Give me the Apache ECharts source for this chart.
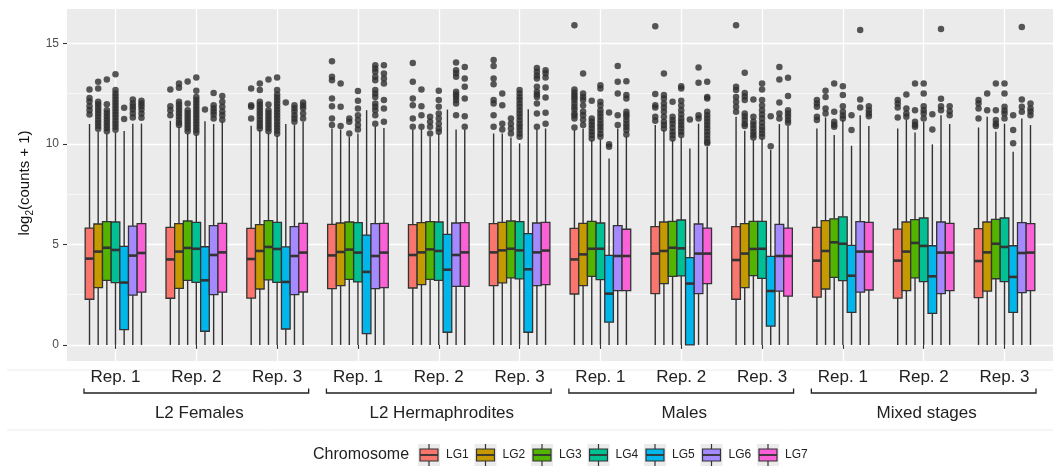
<!DOCTYPE html>
<html>
<head>
<meta charset="utf-8">
<title>Expression per chromosome</title>
<script src="https://cdn.jsdelivr.net/npm/echarts@6.0.0/dist/echarts.min.js"></script>
<style>
  html, body { margin: 0; padding: 0; background: #ffffff; }
  #chart { width: 1053px; height: 466px; }
</style>
</head>
<body>
<div id="chart"></div>
<script>
// ---- data ---------------------------------------------------------------
const conditions = ['L2 Females', 'L2 Hermaphrodites', 'Males', 'Mixed stages'];
const reps = ['Rep. 1', 'Rep. 2', 'Rep. 3'];
const chromosomes = ['LG1', 'LG2', 'LG3', 'LG4', 'LG5', 'LG6', 'LG7'];
const chromColors = ['#F8766D', '#C49A00', '#53B400', '#00C094', '#00B6EB', '#A58AFF', '#FB61D7'];
const yTicks = [0, 5, 10, 15];
const yMinorTicks = [2.5, 7.5, 12.5];

// box statistics per sample: [lower whisker, Q1, median, Q3, upper whisker]
const lg1Box = [
  [0, 2.27, 4.29, 5.81, 10.98], [0, 2.32, 4.25, 5.84, 11.14], [0, 2.33, 4.27, 5.79, 10.89],
  [0, 2.80, 4.45, 5.99, 10.76], [0, 2.83, 4.47, 5.98, 10.68], [0, 2.95, 4.60, 6.03, 10.51],
  [0, 2.53, 4.25, 5.79, 10.68], [0, 2.55, 4.54, 5.88, 10.93], [0, 2.27, 4.22, 5.88, 11.34],
  [0, 2.38, 4.19, 5.84, 10.76], [0, 2.33, 4.19, 5.76, 10.76], [0, 2.35, 4.17, 5.78, 10.81]
];
const lg2Box = [
  [0, 2.85, 4.64, 6.01, 10.60], [0, 2.81, 4.64, 6.03, 10.84], [0, 2.78, 4.67, 5.98, 10.68],
  [0, 2.95, 4.62, 6.06, 10.71], [0, 3.00, 4.60, 6.08, 10.71], [0, 3.08, 4.70, 6.09, 10.51],
  [0, 2.95, 4.50, 6.04, 10.76], [0, 3.05, 4.67, 6.11, 10.68], [0, 2.85, 4.54, 6.03, 10.65],
  [0, 2.78, 4.67, 6.18, 11.31], [0, 2.70, 4.64, 6.11, 11.18], [0, 2.67, 4.60, 6.11, 11.34]
];
const lg3Box = [
  [0, 3.21, 4.83, 6.13, 10.50], [0, 3.21, 4.82, 6.16, 10.50], [0, 3.23, 4.87, 6.18, 10.50],
  [0, 3.26, 4.74, 6.11, 10.35], [0, 3.26, 4.75, 6.13, 10.35], [0, 3.33, 4.78, 6.16, 10.31],
  [0, 3.41, 4.78, 6.14, 10.18], [0, 3.41, 4.83, 6.14, 10.18], [0, 3.44, 4.77, 6.14, 10.18],
  [0, 3.36, 5.10, 6.27, 10.43], [0, 3.33, 5.07, 6.23, 10.56], [0, 3.29, 5.03, 6.24, 10.60]
];
const lg4Box = [
  [0, 3.10, 4.72, 6.11, 10.55], [0, 3.11, 4.78, 6.09, 10.45], [0, 3.11, 4.77, 6.09, 10.40],
  [0, 3.13, 4.59, 6.08, 10.51], [0, 3.21, 4.67, 6.11, 10.51], [0, 3.28, 4.70, 6.13, 10.02],
  [0, 3.25, 4.78, 6.06, 10.21], [0, 3.43, 4.80, 6.21, 10.31], [0, 3.31, 4.78, 6.14, 10.26],
  [0, 3.20, 5.03, 6.37, 11.18], [0, 3.15, 4.92, 6.31, 11.09], [0, 3.15, 4.87, 6.31, 11.00]
];
const lg5Box = [
  [0, 0.76, 3.10, 4.90, 10.63], [0, 0.68, 3.21, 4.88, 11.12], [0, 0.79, 3.13, 4.87, 10.98],
  [0, 0.56, 3.63, 5.46, 11.67], [0, 0.63, 3.74, 5.50, 11.70], [0, 0.63, 3.76, 5.53, 11.72],
  [0, 1.13, 2.55, 4.45, 9.27], [0, 0.00, 3.05, 4.34, 9.77], [0, 0.93, 2.68, 4.40, 9.69],
  [0, 1.62, 3.44, 4.95, 9.90], [0, 1.57, 3.41, 4.93, 9.97], [0, 1.62, 3.38, 4.93, 9.60]
];
const lg6Box = [
  [0, 2.48, 4.44, 5.91, 11.00], [0, 2.50, 4.47, 5.93, 10.98], [0, 2.50, 4.42, 5.88, 10.93],
  [0, 2.80, 4.42, 6.03, 10.84], [0, 2.91, 4.47, 6.06, 10.71], [0, 2.95, 4.60, 6.06, 10.71],
  [0, 2.70, 4.42, 5.93, 10.76], [0, 2.55, 4.54, 6.01, 11.00], [0, 2.67, 4.42, 5.99, 10.98],
  [0, 2.62, 4.64, 6.13, 11.42], [0, 2.55, 4.59, 6.11, 11.42], [0, 2.60, 4.57, 6.08, 11.26]
];
const lg7Box = [
  [0, 2.62, 4.57, 6.03, 11.00], [0, 2.62, 4.60, 6.04, 11.09], [0, 2.63, 4.59, 6.04, 11.09],
  [0, 2.85, 4.59, 6.04, 10.79], [0, 2.91, 4.60, 6.08, 10.68], [0, 3.00, 4.69, 6.09, 10.76],
  [0, 2.70, 4.42, 5.75, 10.35], [0, 3.05, 4.54, 5.81, 9.85], [0, 2.43, 4.42, 5.81, 10.88],
  [0, 2.73, 4.64, 6.09, 10.88], [0, 2.70, 4.59, 6.04, 10.98], [0, 2.70, 4.59, 6.03, 10.93]
];

// outlying genes per sample
const lg1Out = [
  [12.70, 12.28, 12.10, 11.87, 11.67, 11.46],
  [12.70, 11.87, 11.67, 11.42],
  [12.75, 11.92, 11.84, 11.26],
  [14.10, 13.33, 13.16, 12.25, 11.87, 11.26, 10.93],
  [14.02, 13.08, 12.25, 11.92, 11.26, 10.84],
  [14.16, 13.87, 13.25, 12.96, 12.17, 12.00, 11.42, 10.84],
  [15.89, 12.70, 12.55, 12.42, 12.30, 12.17, 12.00, 11.84, 11.70, 11.51, 11.40, 11.26, 10.81],
  [15.84, 12.47, 11.92, 11.80, 11.34, 11.14],
  [15.89, 12.83, 12.67, 12.33, 12.09, 11.84, 11.59],
  [12.17, 12.00, 11.84, 11.34, 11.18],
  [12.17, 12.00, 11.80, 11.31],
  [12.17, 12.00, 11.75, 11.26]
];
const lg2Out = [
  [13.08, 12.75, 12.09, 11.95, 11.80, 11.65, 11.50, 11.35, 11.20, 11.05, 10.90, 10.75],
  [13.00, 12.78, 12.09, 11.95, 11.80, 11.65, 11.50, 11.35, 11.20, 11.05, 10.93],
  [13.00, 12.67, 12.09, 11.95, 11.80, 11.65, 11.50, 11.35, 11.20, 11.05, 10.90, 10.76],
  [13.00, 11.84, 10.88],
  [12.70, 11.87, 11.42, 10.84],
  [12.50, 11.92, 11.00, 10.71],
  [13.49, 12.50, 12.33, 12.17, 11.90, 11.60, 11.42, 11.20, 10.93],
  [13.49, 12.42, 12.25, 12.00, 11.80, 11.59, 11.34, 11.10, 10.93, 10.76],
  [13.53, 12.53, 12.35, 12.17, 11.51, 11.35, 11.18, 11.00, 10.88],
  [12.63, 12.33, 11.75, 11.51],
  [12.45, 11.75, 11.51, 11.34],
  [12.50, 11.67]
];
const lg3Out = [
  [13.20, 11.97, 11.67, 11.52, 11.37, 11.22, 11.07, 10.92, 10.77, 10.62],
  [13.10, 12.00, 11.67, 11.52, 11.37, 11.22, 11.07, 10.92, 10.77, 10.62],
  [13.20, 11.95, 11.67, 11.52, 11.37, 11.22, 11.07, 10.92, 10.77, 10.62],
  [11.26, 11.09, 10.51],
  [11.34, 11.09, 10.84, 10.51],
  [11.26, 11.00, 10.76, 10.51],
  [12.14, 11.26, 11.10, 10.93, 10.77, 10.60, 10.43, 10.26],
  [12.09, 11.34, 11.17, 11.00, 10.80, 10.60, 10.43, 10.26],
  [12.20, 11.34, 11.10, 10.93, 10.77, 10.60, 10.45, 10.31],
  [13.00, 11.59, 11.09, 10.95, 10.84],
  [13.00, 11.67, 11.09, 10.95, 10.84],
  [13.00, 11.67, 11.18, 11.00, 10.88]
];
const lg4Out = [
  [13.46, 12.67, 12.50, 12.35, 12.20, 12.05, 11.90, 11.75, 11.60, 11.45, 11.30, 11.15, 11.00, 10.85, 10.70],
  [13.30, 12.63, 12.33, 12.18, 12.03, 11.88, 11.73, 11.58, 11.43, 11.28, 11.13, 10.98, 10.83, 10.68, 10.55],
  [13.30, 12.67, 12.45, 12.30, 12.15, 12.00, 11.85, 11.70, 11.55, 11.40, 11.25, 11.10, 10.95, 10.80, 10.65, 10.50],
  [12.62, 12.14, 11.75, 11.42, 11.18, 10.93, 10.71],
  [12.63, 12.17, 11.84, 11.51, 11.26, 11.00, 10.76, 10.60],
  [12.67, 12.50, 12.33, 12.17, 12.00, 11.84, 11.67, 11.50, 11.34, 11.17, 11.00, 10.84, 10.68, 10.51, 10.35],
  [12.91, 12.75, 12.09, 11.90, 11.67, 11.50, 11.34, 11.17, 11.00, 10.84, 10.68, 10.50, 10.35],
  [12.86, 12.75, 12.14, 11.90, 11.67, 11.45, 11.26, 11.10, 10.93, 10.77, 10.60, 10.43],
  [13.00, 12.70, 12.17, 11.90, 11.67, 11.45, 11.26, 11.05, 10.84, 10.68, 10.51, 10.35],
  [12.86, 12.42, 11.87, 11.59, 11.40, 11.26],
  [13.00, 12.50, 11.87, 11.67, 11.51, 11.26],
  [13.00, 12.50, 11.84, 11.65, 11.51, 11.26]
];
const lg5Out = [
  [11.79, 11.23],
  [11.70],
  [12.05],
  [],
  [],
  [],
  [11.56, 9.98, 9.85],
  [11.21],
  [11.37, 9.88],
  [11.42, 10.68],
  [11.47, 10.71],
  [11.42, 10.68, 10.02]
];
const lg6Out = [
  [12.20, 12.00, 11.85, 11.70, 11.50, 11.30],
  [12.53, 11.92, 11.75, 11.60, 11.45, 11.26],
  [11.92, 11.76, 11.60, 11.42, 11.25, 11.09],
  [13.90, 13.74, 13.58, 13.33, 13.16, 12.67, 12.50, 12.33, 12.00, 11.84, 11.67, 11.42, 11.00],
  [14.04, 13.66, 13.50, 13.33, 12.58, 12.45, 12.33, 12.17, 12.00, 11.42],
  [13.77, 13.58, 13.40, 13.25, 12.83, 12.58, 12.45, 12.33, 12.00, 11.51, 10.84],
  [13.86, 13.08, 12.50, 11.42, 10.93],
  [13.79, 13.03, 11.42, 11.26],
  [13.82, 13.20, 12.05, 11.51, 11.26],
  [15.65, 12.20, 11.80],
  [15.70, 12.24, 11.87, 11.67],
  [15.81, 12.20, 11.84, 11.59]
];
const lg7Out = [
  [12.14, 12.00, 11.87, 11.70, 11.50, 11.29],
  [12.38, 12.09, 11.84, 11.60, 11.42, 11.20],
  [12.05, 11.90, 11.76, 11.50, 11.26],
  [13.90, 13.49, 13.25, 13.00, 12.17, 11.75, 11.09],
  [13.82, 13.25, 12.83, 12.25, 11.37, 10.84],
  [13.66, 13.50, 13.29, 12.80, 12.30, 11.54, 11.00],
  [13.11, 12.42, 12.25, 11.59, 11.45, 11.34, 11.17, 11.00, 10.84, 10.68, 10.46],
  [13.08, 12.33, 12.25, 11.59, 11.42, 11.26, 11.10, 10.93, 10.77, 10.60, 10.43, 10.26, 10.10, 10.02],
  [13.28, 12.38, 11.67, 11.50, 11.35, 11.18, 11.05],
  [11.87, 11.67, 11.50, 11.37],
  [11.87, 11.62, 11.42],
  [12.00, 11.75, 11.60, 11.42]
];

const boxStats = [lg1Box, lg2Box, lg3Box, lg4Box, lg5Box, lg6Box, lg7Box];
const outliers = [lg1Out, lg2Out, lg3Out, lg4Out, lg5Out, lg6Out, lg7Out];

// ---- layout & style -----------------------------------------------------
const FONT = '"Liberation Sans", Arial, Helvetica, sans-serif';
const INK = '#333333';
const Y_MIN = -0.8, Y_MAX = 16.7;
const X_MIN = 0.4, X_MAX = 12.6;
const DODGE = 0.75;                              // total width of one sample's boxes
const BOX_W = DODGE / chromosomes.length;        // width of a single box
const BRACKET_HALF = 1.39;                       // half span of a condition bracket

// sample positions on the x scale: 1..12
const samplePos = [];
conditions.forEach((c, ci) => reps.forEach((r, ri) => samplePos.push(ci * reps.length + ri + 1)));
const conditionCenters = conditions.map((c, ci) => ci * reps.length + (reps.length + 1) / 2);

function dodgeX(pos, k) {
  return pos + (k - (chromosomes.length - 1) / 2) * BOX_W;
}

function makeBoxRenderer(k) {
  return function (params, api) {
    const x = dodgeX(api.value(0), k);
    const lo = api.coord([x, api.value(1)]);
    const q1 = api.coord([x, api.value(2)]);
    const md = api.coord([x, api.value(3)]);
    const q3 = api.coord([x, api.value(4)]);
    const hi = api.coord([x, api.value(5)]);
    const w = api.size([BOX_W, 0])[0];
    const cx = q1[0];
    const x0 = cx - w / 2;
    return {
      type: 'group',
      children: [
        { type: 'line', shape: { x1: cx, y1: hi[1], x2: cx, y2: q3[1] }, style: { stroke: INK, lineWidth: 1.4 } },
        { type: 'line', shape: { x1: cx, y1: q1[1], x2: cx, y2: lo[1] }, style: { stroke: INK, lineWidth: 1.4 } },
        { type: 'rect', shape: { x: x0, y: q3[1], width: w, height: q1[1] - q3[1] },
          style: { fill: chromColors[k], stroke: INK, lineWidth: 1.3 } },
        { type: 'line', shape: { x1: x0, y1: md[1], x2: x0 + w, y2: md[1] }, style: { stroke: INK, lineWidth: 2.6 } }
      ]
    };
  };
}

const series = [];
chromosomes.forEach((name, k) => {
  series.push({
    type: 'custom',
    name: name,
    renderItem: makeBoxRenderer(k),
    data: boxStats[k].map((s, i) => [samplePos[i]].concat(s)),
    encode: { x: 0, y: [1, 2, 3, 4, 5] },
    z: 3,
    silent: true
  });
  const pts = [];
  outliers[k].forEach((vals, i) => vals.forEach(v => pts.push([dodgeX(samplePos[i], k), v])));
  series.push({
    type: 'scatter',
    name: name,
    data: pts,
    symbol: 'circle',
    symbolSize: 6.5,
    itemStyle: { color: '#2e2e2e' },
    z: 4,
    silent: true
  });
});

// condition brackets and names under the sample labels
series.push({
  type: 'custom',
  name: 'conditions',
  clip: false,
  silent: true,
  z: 5,
  data: conditionCenters.map(c => [c, 0]),
  encode: { x: 0, y: 1 },
  renderItem: function (params, api) {
    const xc = api.value(0);
    const base = api.coord([xc, Y_MIN]);
    const left = api.coord([xc - BRACKET_HALF, Y_MIN])[0];
    const right = api.coord([xc + BRACKET_HALF, Y_MIN])[0];
    const yb = base[1] + 32;
    return {
      type: 'group',
      children: [
        { type: 'polyline', shape: { points: [[left, yb - 4.5], [left, yb], [right, yb], [right, yb - 4.5]] },
          style: { stroke: '#222222', lineWidth: 1.3, fill: null } },
        { type: 'text', x: base[0] + 3, y: base[1] + 52,
          style: { text: conditions[params.dataIndex], fontFamily: FONT, fontSize: 17, fill: '#222222',
                   align: 'center', verticalAlign: 'middle', textAlign: 'center', textVerticalAlign: 'middle' } }
      ]
    };
  }
});

// ---- legend and titles drawn as graphic elements -------------------------
const graphics = [];
// light separator rules of the figure
[370, 430].forEach(y => graphics.push({
  type: 'line', silent: true, z: 0,
  shape: { x1: 7, y1: y, x2: 1053, y2: y },
  style: { stroke: '#ececec', lineWidth: 1 }
}));
// y axis title with subscript
graphics.push({
  type: 'text', x: 25, y: 183, rotation: Math.PI / 2, silent: true,
  style: {
    text: '{a|log}{s|2}{a|(counts + 1)}',
    align: 'center', verticalAlign: 'middle', textAlign: 'center', textVerticalAlign: 'middle',
    rich: {
      a: { fontFamily: FONT, fontSize: 15, fill: '#111111', lineHeight: 20 },
      s: { fontFamily: FONT, fontSize: 10, fill: '#111111', lineHeight: 20, verticalAlign: 'bottom' }
    }
  }
});
// legend
const LEG_Y = 455, LEG_X0 = 418, LEG_STEP = 56.5, KEY = 22;
graphics.push({
  type: 'text', x: 313, y: LEG_Y, silent: true,
  style: { text: 'Chromosome', fontFamily: FONT, fontSize: 16, fill: '#222222',
           align: 'left', verticalAlign: 'middle', textAlign: 'left', textVerticalAlign: 'middle' }
});
chromosomes.forEach((name, k) => {
  const x = LEG_X0 + k * LEG_STEP;
  const top = LEG_Y - KEY / 2;
  const cx = x + KEY / 2;
  graphics.push({
    type: 'group', silent: true,
    children: [
      { type: 'rect', shape: { x: x, y: top, width: KEY, height: KEY }, style: { fill: '#ebebeb' } },
      { type: 'line', shape: { x1: cx, y1: top, x2: cx, y2: top + KEY }, style: { stroke: INK, lineWidth: 1.2 } },
      { type: 'rect', shape: { x: x + 2, y: top + 5, width: KEY - 4, height: KEY - 10 },
        style: { fill: chromColors[k], stroke: INK, lineWidth: 1.2 } },
      { type: 'line', shape: { x1: x + 2, y1: LEG_Y, x2: x + KEY - 2, y2: LEG_Y }, style: { stroke: INK, lineWidth: 1.8 } },
      { type: 'text', x: x + KEY + 6, y: LEG_Y,
        style: { text: name, fontFamily: FONT, fontSize: 12, fill: '#222222',
                 align: 'left', verticalAlign: 'middle', textAlign: 'left', textVerticalAlign: 'middle' } }
    ]
  });
});

// ---- chart ---------------------------------------------------------------
const chart = echarts.init(document.getElementById('chart'), null, { renderer: 'canvas' });
chart.setOption({
  animation: false,
  backgroundColor: '#ffffff',
  grid: {
    left: 67, top: 9, width: 991, height: 352,
    show: true, backgroundColor: '#ebebeb', borderWidth: 0
  },
  xAxis: {
    type: 'value', min: X_MIN, max: X_MAX,
    axisLine: { show: false },
    axisTick: { show: true, customValues: samplePos, length: 4, lineStyle: { color: INK, width: 1.1 } },
    axisLabel: {
      customValues: samplePos, margin: 8,
      fontFamily: FONT, fontSize: 17, color: '#222222',
      formatter: v => reps[(Math.round(v) - 1) % reps.length]
    },
    splitLine: { show: true, lineStyle: { color: '#ffffff', width: 1.3 } }
  },
  yAxis: [
    {
      type: 'value', min: Y_MIN, max: Y_MAX,
      axisLine: { show: false },
      axisTick: { show: true, customValues: yTicks, length: 4, lineStyle: { color: INK, width: 1.1 } },
      axisLabel: { customValues: yTicks, margin: 8, fontFamily: FONT, fontSize: 12, color: '#4d4d4d' },
      splitLine: { show: true, lineStyle: { color: '#ffffff', width: 1.3 } }
    },
    {
      type: 'value', min: Y_MIN, max: Y_MAX, position: 'left',
      axisLine: { show: false },
      axisTick: { show: false, customValues: yMinorTicks },
      axisLabel: { show: false, customValues: yMinorTicks },
      splitLine: { show: true, lineStyle: { color: '#ffffff', width: 0.6 } }
    }
  ],
  graphic: graphics,
  series: series
});
</script>
</body>
</html>
